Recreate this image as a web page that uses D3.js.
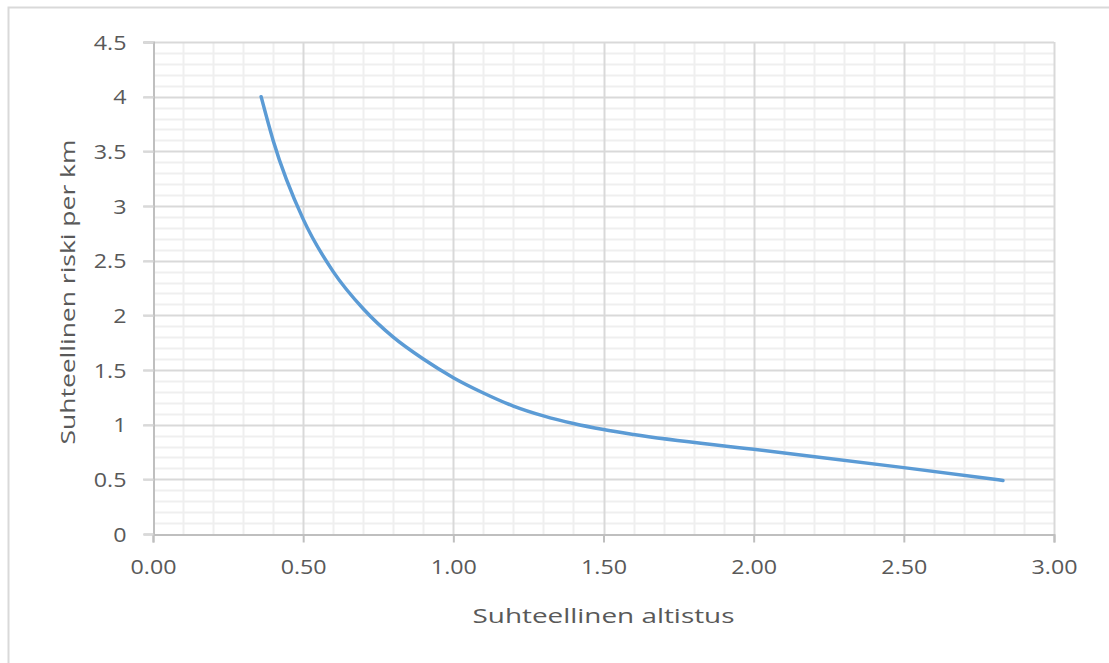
<!DOCTYPE html>
<html><head><meta charset="utf-8">
<script src="https://cdn.jsdelivr.net/npm/d3@7"></script>
<style>body{margin:0;background:#fff}svg{display:block}text{font-family:"Open Sans",sans-serif;fill:#595959}</style>
</head><body>
<svg id="c" width="1109" height="663"></svg>
<script>
const exposure = [0.36,0.4,0.5,0.6,0.7,0.8,0.9,1.0,1.1,1.2,1.3,1.4,1.5,1.6,2.0,2.5,2.83];
const risk =     [4.0,3.6,2.88,2.4,2.06,1.8,1.6,1.43,1.29,1.17,1.08,1.01,0.955,0.91,0.775,0.607,0.49];
const xTicks = [0,0.5,1,1.5,2,2.5,3];
const yTicks = [0,0.5,1,1.5,2,2.5,3,3.5,4,4.5];
const xTitle = "Suhteellinen altistus";
const yTitle = "Suhteellinen riski per km";

const svg = d3.select("#c");
svg.append("rect").attr("x",8.5).attr("y",7.5).attr("width",1200).attr("height",700)
  .attr("fill","#fff").attr("stroke","#d9d9d9").attr("stroke-width",2);

const x = d3.scaleLinear().domain([0,3]).range([153,1054]);
const y = d3.scaleLinear().domain([0,4.5]).range([534,42]);

const g = svg.append("g");
const minorX = d3.range(0,3.0001,0.1).filter(v=>Math.abs(v*2-Math.round(v*2))>1e-6);
const minorY = d3.range(0,4.5001,0.1).filter(v=>Math.abs(v*2-Math.round(v*2))>1e-6);
g.selectAll(".mx").data(minorX).join("line").attr("x1",d=>Math.round(x(d))+0.5).attr("x2",d=>Math.round(x(d))+0.5)
  .attr("y1",y(4.5)).attr("y2",y(0)).attr("stroke","#efefef").attr("stroke-width",2);
g.selectAll(".my").data(minorY).join("line").attr("y1",d=>Math.round(y(d))+0.5).attr("y2",d=>Math.round(y(d))+0.5)
  .attr("x1",x(0)).attr("x2",x(3)).attr("stroke","#efefef").attr("stroke-width",2);
g.selectAll(".Mx").data(xTicks.slice(1)).join("line").attr("x1",d=>Math.round(x(d))+0.5).attr("x2",d=>Math.round(x(d))+0.5)
  .attr("y1",y(4.5)).attr("y2",y(0)).attr("stroke","#d9d9d9").attr("stroke-width",2);
g.selectAll(".My").data(yTicks.slice(1)).join("line").attr("y1",d=>Math.round(y(d))+0.5).attr("y2",d=>Math.round(y(d))+0.5)
  .attr("x1",x(0)-10).attr("x2",x(3)).attr("stroke","#d9d9d9").attr("stroke-width",2);

const xAxis = d3.axisBottom(x).tickValues(xTicks).tickFormat(d3.format(".2f")).tickSize(8).tickPadding(18);
const yAxis = d3.axisLeft(y).tickValues(yTicks).tickFormat(d=>String(d)).tickSize(10).tickPadding(17);
const gx = svg.append("g").attr("transform",`translate(0,${Math.round(y(0))+0.5})`).call(xAxis);
const gy = svg.append("g").attr("transform",`translate(${Math.round(x(0))+0.5},0)`).call(yAxis);
[gx,gy].forEach(a=>{
  a.select(".domain").attr("stroke","#bfbfbf").attr("stroke-width",2);
  a.selectAll(".tick line").attr("stroke","#bfbfbf").attr("stroke-width",2);
  a.selectAll("text").attr("font-size",19.5).attr("fill","#595959").style("font-family","'Open Sans',sans-serif");
});
gy.selectAll(".tick line").attr("stroke","#d9d9d9");
gy.selectAll("text").attr("dy","0.36em");
const probe = gx.select(".tick text").node();
const k = 46 / probe.getComputedTextLength();
gx.selectAll("text").each(function(){ const w=this.getComputedTextLength(); d3.select(this).attr("textLength",w*k).attr("lengthAdjust","spacingAndGlyphs"); });
gy.selectAll("text").each(function(){ const w=this.getComputedTextLength(); d3.select(this).attr("textLength",w*k).attr("lengthAdjust","spacingAndGlyphs"); });

const line = d3.line().x((d,i)=>x(exposure[i])).y(d=>y(d)).curve(d3.curveMonotoneX);
svg.append("path").attr("d",line(risk)).attr("fill","none").attr("stroke","#5b9bd5").attr("stroke-width",3.5).attr("stroke-linecap","round");

const xt = svg.append("text").attr("x",(x(0)+x(3))/2).attr("y",623).attr("text-anchor","middle").attr("font-size",20.5).text(xTitle);
xt.attr("textLength",262).attr("lengthAdjust","spacingAndGlyphs");
const yt = svg.append("text").attr("transform",`translate(75,${(y(0)+y(4.5))/2+4}) rotate(-90)`).attr("text-anchor","middle").attr("font-size",20.5).text(yTitle);
yt.attr("textLength",305).attr("lengthAdjust","spacingAndGlyphs");
</script>
</body></html>
